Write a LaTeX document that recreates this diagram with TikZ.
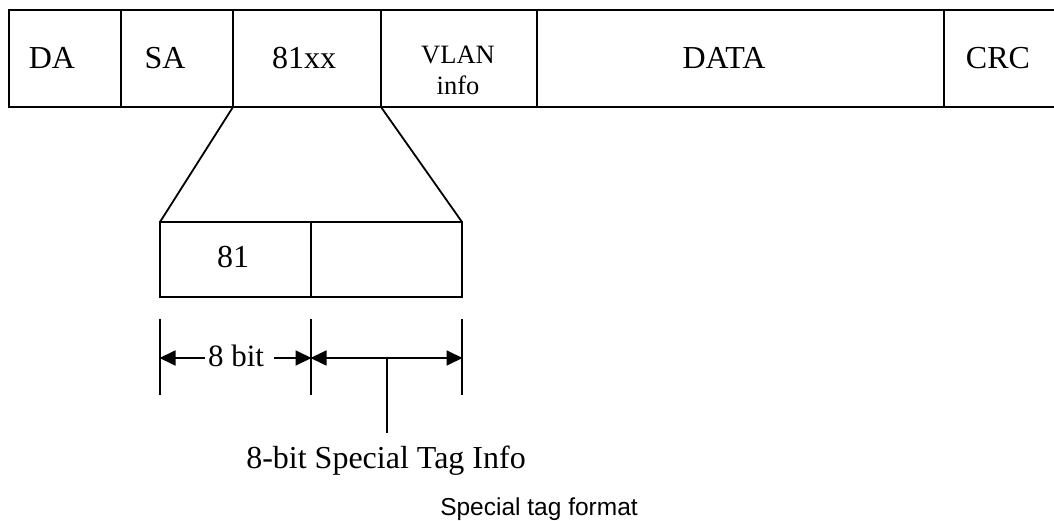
\documentclass[tikz,border=0pt]{standalone}
\usepackage{fontspec}
\setmainfont{Liberation Serif}
\newfontfamily\capfont{Liberation Sans}
\usetikzlibrary{arrows.meta}
\tikzset{
  cell/.style={draw, line width=1.8pt, rectangle, anchor=north west, outer sep=0pt, inner sep=0pt},
  lbl/.style={anchor=base, inner sep=0pt, font=\fontsize{32}{36}\selectfont},
  small/.style={anchor=base, inner sep=0pt, font=\fontsize{26.5}{30}\selectfont},
  thin/.style={line width=1.8pt},
  dim/.style={line width=1.8pt, -{Triangle[length=16pt,width=15pt]}, shorten >=-0.5pt},
}
\begin{document}
\begin{tikzpicture}[x=1pt,y=-1pt]
\useasboundingbox (0,0) rectangle (1054,521);
\clip (0,0) rectangle (1054,521);

% Ethernet frame fields
\node[cell, minimum width=112pt, minimum height=97pt] (da)   at (9,10)   {};
\node[cell, minimum width=112pt, minimum height=97pt] (sa)   at (121,10) {};
\node[cell, minimum width=148pt, minimum height=97pt] (tag)  at (233,10) {};
\node[cell, minimum width=156pt, minimum height=97pt] (vlan) at (381,10) {};
\node[cell, minimum width=407pt, minimum height=97pt] (data) at (537,10) {};
\node[cell, minimum width=130pt, minimum height=97pt] (crc)  at (944,10) {};

\node[lbl] (tda)   at (52,69)  {DA};
\node[lbl] (tsa)   at (165,69) {SA};
\node[lbl] (ttag)  at (304,69) {81xx};
\node[small] (tvl) at (458,64) {VLAN};
\node[small] (tin) at (458,95) {info};
\node[lbl] (tdata) at (724,69) {DATA};
\node[lbl] (tcrc)  at (998,69) {CRC};

% Expanded special tag
\node[cell, minimum width=151pt, minimum height=75pt] (s81) at (160,222) {};
\node[cell, minimum width=151pt, minimum height=75pt] (sx)  at (311,222) {};
\node[lbl] (t81) at (233,268) {81};

\draw[thin] (tag.south west) -- (s81.north west);
\draw[thin] (tag.south east) -- (sx.north east);

% Dimension lines
\coordinate (k1a) at (160,319); \coordinate (k1b) at (160,395);
\coordinate (k2a) at (311,319); \coordinate (k2b) at (311,395);
\coordinate (k3a) at (462,319); \coordinate (k3b) at (462,395);
\draw[thin] (k1a) -- (k1b);
\draw[thin] (k2a) -- (k2b);
\draw[thin] (k3a) -- (k3b);

\coordinate (p1) at (160,358);
\coordinate (p2) at (311,358);
\coordinate (p3) at (462,358);
\coordinate (pm) at (387,358);
\node[lbl, font=\fontsize{31}{34}\selectfont] (bit8) at (236,366) {8 bit};
\draw[dim] ([xshift=-3pt]bit8.west |- p1) -- (p1);
\draw[dim] ([xshift=10pt]bit8.east |- p2) -- (p2);
\draw[dim] (pm) -- (p2);
\draw[dim] (pm) -- (p3);

\coordinate (pend) at (387,433);
\draw[thin] (pm) -- (pend);
\node[lbl] (info) at (386,468) {8-bit Special Tag Info};

% Caption
\node[anchor=base, inner sep=0pt, font=\capfont\fontsize{24.5}{28}\selectfont] (cap) at (539,515) {Special tag format};
\end{tikzpicture}
\end{document}
